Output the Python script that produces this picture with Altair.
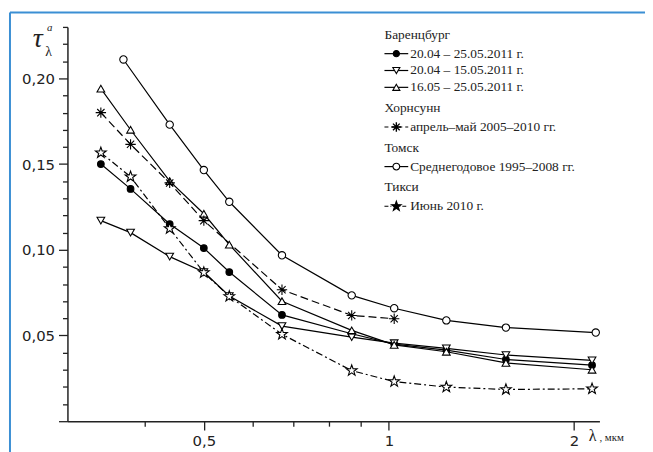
import altair as alt
import pandas as pd

# ---------------- data ----------------
lam_bar = [0.34, 0.38, 0.44, 0.50, 0.55, 0.67, 0.87, 1.02, 1.24, 1.55, 2.14]
tau_bar_all = [0.150, 0.1355, 0.115, 0.101, 0.087, 0.062, 0.051, 0.045, 0.0415, 0.036, 0.0327]
tau_bar_early = [0.117, 0.110, 0.096, 0.087, 0.073, 0.0555, 0.049, 0.0455, 0.0425, 0.0386, 0.0355]
tau_bar_late = [0.194, 0.170, 0.140, 0.121, 0.103, 0.070, 0.053, 0.0445, 0.0405, 0.034, 0.030]

lam_hor = [0.34, 0.38, 0.44, 0.50, 0.67, 0.87, 1.02]
tau_hor = [0.180, 0.1615, 0.139, 0.117, 0.0767, 0.0617, 0.0598]

lam_tomsk = [0.37, 0.44, 0.50, 0.55, 0.67, 0.87, 1.02, 1.24, 1.55, 2.17]
tau_tomsk = [0.211, 0.173, 0.1465, 0.128, 0.0968, 0.0734, 0.0659, 0.0588, 0.0546, 0.0517]

lam_tiksi = [0.34, 0.38, 0.44, 0.50, 0.55, 0.67, 0.87, 1.02, 1.24, 1.55, 2.14]
tau_tiksi = [0.1566, 0.1426, 0.1124, 0.0867, 0.0728, 0.0507, 0.0295, 0.0231, 0.0199, 0.0185, 0.0189]

S_ALL = "20.04 – 25.05.2011 г."
S_EARLY = "20.04 – 15.05.2011 г."
S_LATE = "16.05 – 25.05.2011 г."
S_HOR = "апрель–май 2005–2010 гг."
S_TOMSK = "Среднегодовое 1995–2008 гг."
S_TIKSI = "Июнь 2010 г."

legend_groups = [
    ("Баренцбург", [S_ALL, S_EARLY, S_LATE]),
    ("Хорнсунн", [S_HOR]),
    ("Томск", [S_TOMSK]),
    ("Тикси", [S_TIKSI]),
]

x_tick_values = [0.4, 0.5, 0.6, 0.7, 0.8, 0.9, 1, 2]
y_tick_values = [i / 100 for i in range(0, 24)]

series = [
    (S_ALL, lam_bar, tau_bar_all),
    (S_EARLY, lam_bar, tau_bar_early),
    (S_LATE, lam_bar, tau_bar_late),
    (S_HOR, lam_hor, tau_hor),
    (S_TOMSK, lam_tomsk, tau_tomsk),
    (S_TIKSI, lam_tiksi, tau_tiksi),
]

# ---------------- styles ----------------
STAR = ("M0,-1L0.235,-0.324L0.951,-0.309L0.380,0.124L0.588,0.809L0,0.4"
        "L-0.588,0.809L-0.380,0.124L-0.951,-0.309L-0.235,-0.324Z")
ASTER = "M0,-1L0,1M-1,0L1,0M-0.7,-0.7L0.7,0.7M-0.7,0.7L0.7,-0.7"

styles = {
    S_ALL: dict(shape="circle", fill="black", size=45, dash=None),
    S_EARLY: dict(shape="triangle-down", fill="white", size=60, dash=None),
    S_LATE: dict(shape="triangle-up", fill="white", size=60, dash=None),
    S_HOR: dict(shape=ASTER, fill="white", size=110, dash=[8, 4]),
    S_TOMSK: dict(shape="circle", fill="white", size=55, dash=None),
    S_TIKSI: dict(shape=STAR, fill="white", size=130, dash=[7, 3, 2, 3]),
}

W, H = 537, 398
INK = "#222222"
SERIF = "Liberation Serif, DejaVu Serif, serif"

xscale = alt.Scale(type="log", domain=[0.3, 2.2], nice=False)
yscale = alt.Scale(domain=[0, 0.23], nice=False, zero=False)

x_axis = alt.Axis(
    values=x_tick_values,
    labelExpr="datum.value == 0.5 ? '0,5' : (datum.value == 1 ? '1' : (datum.value == 2 ? '2' : ''))",
    tickSize={"condition": {"test": "datum.value == 0.5 || datum.value == 1 || datum.value == 2", "value": 9}, "value": 5},
    grid=False, domainColor=INK, domainWidth=1.5, tickColor=INK, tickWidth=1.3,
    labelFont="DejaVu Sans", labelFontSize=15, labelColor=INK, labelPadding=4,
    labelFlush=False, labelOverlap=False, title=None,
)
y_axis = alt.Axis(
    values=y_tick_values,
    labelExpr="datum.value > 0.001 && abs(datum.value*20 - round(datum.value*20)) < 0.001 ? replace(format(datum.value, '.2f'), '.', ',') : ''",
    tickSize={"condition": {"test": "abs(datum.value*20 - round(datum.value*20)) < 0.001", "value": 9}, "value": 5},
    grid=False, domainColor=INK, domainWidth=1.5, tickColor=INK, tickWidth=1.3,
    labelFont="DejaVu Sans", labelFontSize=15, labelColor=INK, labelPadding=4,
    labelOverlap=False, labelFlush=False, title=None,
)

x_enc = alt.X("lam:Q", scale=xscale, axis=x_axis)
y_enc = alt.Y("tau:Q", scale=yscale, axis=y_axis)

layers = []
for name, lams, taus in series:
    d = pd.DataFrame({"lam": lams, "tau": taus, "series": name})
    st = styles[name]
    lk = dict(color="black", strokeWidth=1.2)
    if st["dash"]:
        lk["strokeDash"] = st["dash"]
    layers.append(alt.Chart(d).mark_line(**lk).encode(x=x_enc, y=y_enc))
for name, lams, taus in series:
    d = pd.DataFrame({"lam": lams, "tau": taus, "series": name})
    st = styles[name]
    layers.append(
        alt.Chart(d).mark_point(shape=st["shape"], size=st["size"], fill=st["fill"],
                                stroke="black", strokeWidth=1.1, opacity=1, fillOpacity=1, filled=True)
        .encode(x=x_enc, y=y_enc)
    )

# ---------------- legend (custom, grouped) ----------------
one = pd.DataFrame({"a": [0]})
LX0, LX1, LXS, LXT = 320, 344, 332, 346
ypos = 8
for header, items in legend_groups:
    layers.append(
        alt.Chart(pd.DataFrame({"t": [header]})).mark_text(
            align="left", baseline="middle", font=SERIF, fontSize=13.5, color=INK)
        .encode(x=alt.value(LX0), y=alt.value(ypos), text="t:N")
    )
    ypos += 19
    for it in items:
        st = styles[it]
        rk = dict(color="black", strokeWidth=1.2)
        if st["dash"]:
            rk["strokeDash"] = [4, 3] if it == S_HOR else [4, 2, 1, 2]
        layers.append(alt.Chart(one).mark_rule(**rk).encode(
            x=alt.value(LX0), x2=alt.value(LX1), y=alt.value(ypos)))
        lfill = "black" if it == S_TIKSI else st["fill"]
        layers.append(alt.Chart(one).mark_point(
            shape=st["shape"], size=st["size"] * (0.8 if it == S_TIKSI else 0.85), fill=lfill,
            stroke="black", strokeWidth=1.4 if it == S_HOR else 1.1, opacity=1, fillOpacity=1, filled=True)
            .encode(x=alt.value(LXS), y=alt.value(ypos)))
        layers.append(
            alt.Chart(pd.DataFrame({"t": [it]})).mark_text(
                align="left", baseline="middle", font=SERIF, fontSize=13.5, color=INK)
            .encode(x=alt.value(LXT), y=alt.value(ypos), text="t:N")
        )
        ypos += 17
    ypos += 4

# ---------------- axis titles ----------------
def label(txt, x, y, size, style="normal", align="center"):
    return alt.Chart(pd.DataFrame({"t": [txt]})).mark_text(
        align=align, baseline="middle", font=SERIF, fontSize=size,
        fontStyle=style, color=INK).encode(x=alt.value(x), y=alt.value(y), text="t:N")

layers.append(label("τ", -30, 12, 28, "italic"))
layers.append(label("a", -18, 1, 11, "italic"))
layers.append(label("λ", -19, 25, 14))
layers.append(label("λ", 530, H + 15, 16, align="center"))
layers.append(label(", мкм", 537, H + 17, 11, align="left"))

# ---------------- blue frame ----------------
FRAME = "#3b8fd4"
layers.append(alt.Chart(one).mark_rule(color=FRAME, strokeWidth=2).encode(
    x=alt.value(-58), y=alt.value(-14.5), y2=alt.value(H + 60)))
layers.append(alt.Chart(one).mark_rule(color=FRAME, strokeWidth=2).encode(
    x=alt.value(-58), x2=alt.value(W + 60), y=alt.value(-14.5)))

chart = alt.layer(*layers).properties(
    width=W, height=H,
    autosize=alt.AutoSizeParams(type="none"),
    padding={"left": 60, "top": 17, "right": 46, "bottom": 29},
    background="white",
).configure_view(stroke=None)

chart.save("out.html", embed_options={"renderer": "svg", "actions": False})
